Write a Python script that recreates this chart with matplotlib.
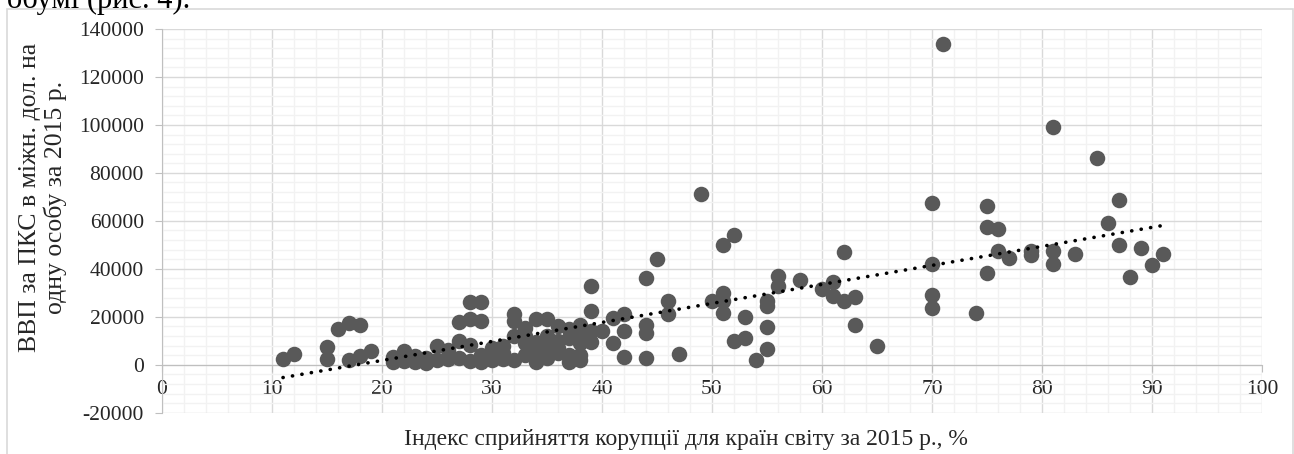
import matplotlib
matplotlib.use("Agg")
import matplotlib.pyplot as plt
import numpy as np
from matplotlib.ticker import MultipleLocator
from matplotlib.patches import Rectangle

# індекс сприйняття корупції (CPI 2015) і ВВП за ПКС на особу
cpi = [11, 12, 15, 15, 16, 17, 17, 18, 18, 19,
       21, 21, 22, 22, 23, 23, 24, 24, 25, 25,
       26, 26, 27, 27, 27, 28, 28, 28, 28, 29,
       29, 29, 29, 30, 30, 31, 31, 32, 32, 32,
       32, 33, 33, 34, 34, 34, 35, 35, 35, 36,
       36, 36, 37, 37, 37, 37, 38, 38, 38, 38,
       38, 39, 39, 39, 39, 40, 41, 41, 42, 42,
       42, 44, 44, 44, 44, 45, 46, 46, 47, 49,
       50, 51, 51, 51, 51, 52, 52, 53, 53, 54,
       55, 55, 55, 55, 56, 56, 58, 60, 61, 61,
       62, 62, 63, 63, 65, 70, 70, 70, 70, 71,
       74, 75, 75, 75, 76, 76, 77, 79, 79, 81,
       81, 81, 83, 85, 86, 87, 87, 88, 89, 90,
       91, 30, 31, 33, 34, 36, 35, 33]
gdp = [2400, 4500, 7400, 2500, 15000, 17500, 2100, 16400, 3500, 5900,
       3200, 1000, 5600, 1500, 3500, 1200, 800, 3000, 8000, 2000,
       6300, 2500, 17700, 9800, 3000, 26100, 18900, 8400, 1500, 26100,
       18200, 1000, 4000, 4500, 2000, 5000, 2500, 21000, 18200, 11900,
       2000, 15400, 4000, 19100, 6000, 1200, 18900, 8000, 3000, 16100,
       10000, 5000, 14700, 4200, 1000, 11000, 16400, 11900, 9100, 4200,
       2000, 32800, 22400, 14000, 9500, 14000, 19600, 9100, 21000, 14000,
       3200, 36000, 16500, 13300, 2800, 44000, 26500, 21300, 4500, 71000,
       26400, 49900, 30000, 26500, 21700, 54100, 9800, 19800, 11200, 2100,
       26500, 24500, 15600, 6600, 37000, 32800, 35300, 31400, 34500, 28600,
       47200, 26500, 28200, 16500, 7700, 67500, 41900, 28900, 23800, 133800,
       21400, 66400, 57300, 38400, 56600, 47500, 44500, 47500, 45700, 99000,
       47500, 41900, 46100, 86000, 59000, 68900, 49900, 36600, 48600, 41500,
       46100, 7000, 8000, 9000, 9500, 7000, 12000, 12000]

x_label = "Індекс сприйняття корупції для країн світу за 2015 р., %"
y_label = "ВВП за ПКС в міжн. дол. на\nодну особу за 2015 р."

plt.rcParams['font.family'] = ['Liberation Serif', 'DejaVu Serif']
plt.rcParams['axes.unicode_minus'] = False

fig = plt.figure(figsize=(12.94, 4.54), dpi=100)
ax = fig.add_axes([162/1294, 1 - 412.7/454, 1100/1294, (412.7 - 29)/454])

# рамка діаграми
fig.patches.append(Rectangle((7/1294, -0.1), 1286/1294, 1.1 - 9/454,
                             transform=fig.transFigure, fill=False,
                             edgecolor='#d9d9d9', lw=1.2))
# обрізаний рядок тексту документа зверху
fig.text(7/1294, 1 - 8/454, "обумі (рис. 4).", fontsize=22, va='baseline')

ax.set_xlim(0, 100)
ax.set_ylim(-20000, 140000)
ax.xaxis.set_major_locator(MultipleLocator(10))
ax.xaxis.set_minor_locator(MultipleLocator(2))
ax.yaxis.set_major_locator(MultipleLocator(20000))
ax.yaxis.set_minor_locator(MultipleLocator(4000))
ax.grid(which='minor', color='#f2f2f2', lw=1)
ax.grid(which='major', color='#d9d9d9', lw=1)
ax.set_axisbelow(True)

for s in ['top', 'right']:
    ax.spines[s].set_visible(False)
ax.spines['bottom'].set_position(('data', 0))
ax.spines['bottom'].set_color('#bfbfbf')
ax.spines['left'].set_color('#bfbfbf')
ax.tick_params(which='major', color='#bfbfbf', length=5, labelsize=15.5,
               labelcolor='#262626')
ax.tick_params(which='minor', length=0)
ax.tick_params(axis='x', pad=6)
ax.tick_params(axis='y', pad=8)

ax.scatter(cpi, gdp, s=125, color='#595959', zorder=3, linewidths=0)

k, b = np.polyfit(cpi, gdp, 1)
xt = np.array([min(cpi), max(cpi)])
ax.plot(xt, k*xt + b, color='black', lw=2.6, linestyle=(0, (0.05, 2.6)),
        dash_capstyle='round', zorder=4)

fig.text(686/1294, 1 - 440/454, x_label, fontsize=17, ha='center', va='center',
         color='#262626')
fig.text(43/1294, 1 - 197/454, y_label, fontsize=18.5, ha='center', va='center',
         rotation=90, color='#262626', multialignment='center', linespacing=1.15)

fig.savefig("out.png", dpi=100)
